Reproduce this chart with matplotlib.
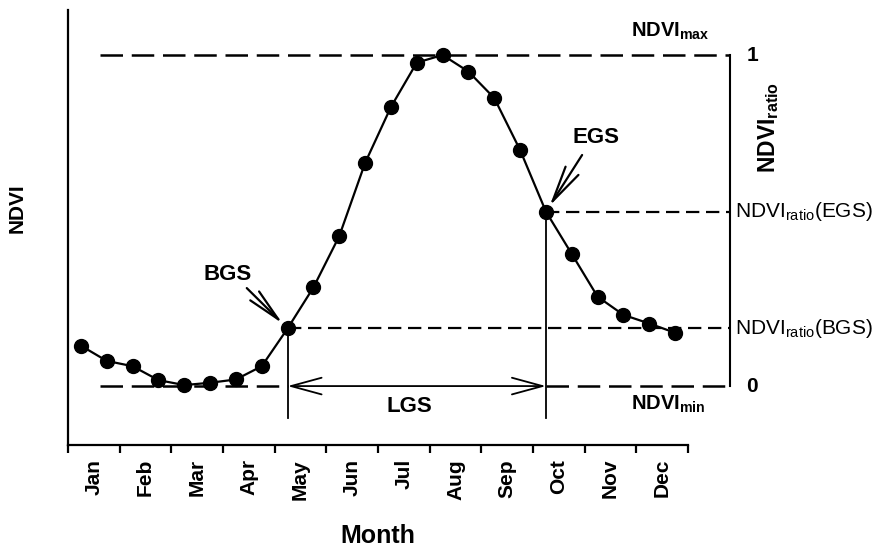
import numpy as np
import matplotlib
matplotlib.use("Agg")
import matplotlib.pyplot as plt
from matplotlib.transforms import blended_transform_factory

plt.rcParams['font.family'] = ['Liberation Sans', 'DejaVu Sans']
plt.rcParams['mathtext.fontset'] = 'custom'
plt.rcParams['mathtext.rm'] = 'Liberation Sans'
plt.rcParams['mathtext.bf'] = 'Liberation Sans:bold'

# data
months = ["Jan", "Feb", "Mar", "Apr", "May", "Jun",
          "Jul", "Aug", "Sep", "Oct", "Nov", "Dec"]
t = np.arange(0.25, 12, 0.5)  # half-month composites
ndvi = [0.122, 0.076, 0.060, 0.018, 0.003, 0.010, 0.020, 0.060,
        0.174, 0.298, 0.453, 0.674, 0.843, 0.977, 1.000, 0.950,
        0.870, 0.713, 0.527, 0.399, 0.270, 0.215, 0.189, 0.161]
i_bgs, i_egs = 8, 18
ndvi_min, ndvi_max = 0.0, 1.0

fig = plt.figure(figsize=(8.73, 5.48), dpi=100)
ax = fig.add_axes([68/873, 103/548, 805/873, 435/548])
ax.set_xlim(0, 15.58)
ax.set_ylim(-0.178, 1.136)

x_right = 12.81  # secondary scale position
x_start = 0.62

t_b, v_b = t[i_bgs], ndvi[i_bgs]
t_e, v_e = t[i_egs], ndvi[i_egs]

# NDVImax / NDVImin dashed lines
ax.plot([x_start, x_right], [ndvi_max, ndvi_max], color='k', lw=1.8,
        dashes=(9, 3.5))
ax.plot([x_start, t_b], [ndvi_min, ndvi_min], color='k', lw=1.8, dashes=(9, 3.5))
ax.plot([t_e, x_right], [ndvi_min, ndvi_min], color='k', lw=1.8, dashes=(9, 3.5))

# ratio dashed lines
ax.plot([t_b, x_right], [v_b, v_b], color='k', lw=1.6, dashes=(6, 3))
ax.plot([t_e, x_right], [v_e, v_e], color='k', lw=1.6, dashes=(6, 3))

# vertical markers
ax.plot([t_b, t_b], [-0.097, v_b], color='k', lw=1.3)
ax.plot([t_e, t_e], [-0.097, v_e], color='k', lw=1.3)

# right scale
ax.plot([x_right, x_right], [ndvi_min, ndvi_max], color='k', lw=1.5)
ax.text(x_right + 0.43, ndvi_max, "1", fontsize=15, fontweight='bold',
        ha='center', va='center')
ax.text(x_right + 0.43, ndvi_min, "0", fontsize=15, fontweight='bold',
        ha='center', va='center')

# curve
ax.plot(t, ndvi, color='k', lw=1.6, marker='o', markersize=10, zorder=5)

# LGS arrow
ax.annotate("", xy=(t_e, 0), xytext=(t_b, 0),
            arrowprops=dict(arrowstyle="<->,head_length=2.2,head_width=0.6",
                            color='k', lw=1.3, shrinkA=0, shrinkB=0,
                            mutation_scale=10))
ax.text(6.6, -0.063, "LGS", fontsize=16, fontweight='bold',
        ha='center', va='center')

# BGS / EGS arrows
ax.text(3.08, 0.338, "BGS", fontsize=16, fontweight='bold',
        ha='center', va='center')
ax.annotate("", xy=(t_b, v_b), xytext=(3.46, 0.296),
            arrowprops=dict(arrowstyle="->,head_length=2.4,head_width=0.45",
                            color='k', lw=1.6, shrinkA=0, shrinkB=5,
                            mutation_scale=10))
ax.text(10.22, 0.752, "EGS", fontsize=16, fontweight='bold',
        ha='center', va='center')
ax.annotate("", xy=(t_e, v_e), xytext=(9.95, 0.698),
            arrowprops=dict(arrowstyle="->,head_length=2.6,head_width=0.55",
                            color='k', lw=1.6, shrinkA=0, shrinkB=5,
                            mutation_scale=10))

# labels on right
ax.text(11.65, 1.072, r"$\mathbf{NDVI}_{\mathbf{max}}$", fontsize=14.5,
        ha='center', va='center')
ax.text(11.61, -0.054, r"$\mathbf{NDVI}_{\mathbf{min}}$", fontsize=14.5,
        ha='center', va='center')
ax.text(12.91, v_e, r"$\mathrm{NDVI}_{\mathrm{ratio}}\mathrm{(EGS)}$",
        fontsize=15, ha='left', va='center')
ax.text(12.91, v_b, r"$\mathrm{NDVI}_{\mathrm{ratio}}\mathrm{(BGS)}$",
        fontsize=15, ha='left', va='center')
ax.text(13.55, 0.78, r"$\mathbf{NDVI}_{\mathbf{ratio}}$", fontsize=16.5,
        rotation=90, ha='center', va='center')

# axes styling
for s in ['top', 'right']:
    ax.spines[s].set_visible(False)
ax.spines['bottom'].set_bounds(0, 12)
ax.spines['bottom'].set_linewidth(1.6)
ax.spines['left'].set_linewidth(1.6)
ax.set_yticks([])
ax.set_xticks(np.arange(0, 13))
ax.set_xticklabels([])
ax.set_xticks(np.arange(0.5, 12, 1), minor=True)
ax.set_xticklabels(months, minor=True, rotation=90, fontsize=15,
                   fontweight='bold')
ax.tick_params(axis='x', which='major', length=6, width=1.6, direction='out')
ax.tick_params(axis='x', which='minor', length=0, pad=10)

tr = blended_transform_factory(ax.transData, fig.transFigure)
ax.text(6.0, 1 - 536/548, "Month", transform=tr, fontsize=18,
        fontweight='bold', ha='center', va='center')
fig.text(17/873, 1 - 208/548, "NDVI", fontsize=15, fontweight='bold',
         rotation=90, ha='center', va='center')

fig.savefig("out.png", dpi=100)
